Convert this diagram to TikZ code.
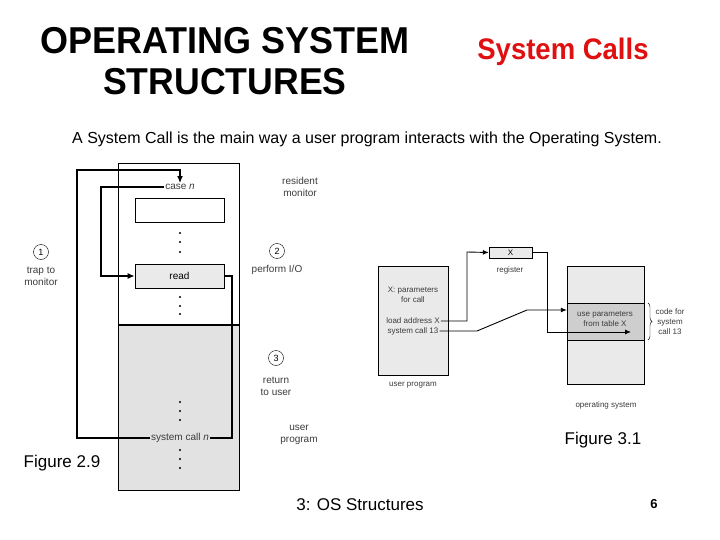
\documentclass[tikz,border=0pt]{standalone}
\usepackage{fontspec}
\setmainfont{Liberation Sans}
\usepackage{xcolor}
\usetikzlibrary{positioning,arrows.meta,decorations.pathreplacing}
\definecolor{titleRed}{RGB}{224,16,16}
\definecolor{paneGray}{RGB}{226,226,226}
\definecolor{lightPane}{RGB}{234,234,234}
\definecolor{bandGray}{RGB}{206,206,206}
\definecolor{labelGray}{RGB}{60,60,60}
\tikzset{
  lbl/.style={font=\fontsize{10}{12}\selectfont, text=labelGray, align=center, inner sep=1pt},
  small/.style={font=\fontsize{8}{10}\selectfont, text=labelGray, align=center, inner sep=1pt},
  numcirc/.style={circle, draw, thin, inner sep=0pt, minimum size=15pt, font=\fontsize{9}{9}\selectfont},
  slot/.style={draw, thick, minimum width=89, minimum height=24, inner sep=0pt},
  conn/.style={line width=1.3pt},
  link/.style={line width=0.9pt},
  figlbl/.style={font=\fontsize{17}{20}\selectfont}
}
\begin{document}
\begin{tikzpicture}[x=1pt,y=-1pt]
\useasboundingbox[fill=white] (0,0) rectangle (720,540);
\node[font=\bfseries\fontsize{36}{41}\selectfont, align=center] (title) at (225,61) {\scalebox{1}[1.04]{OPERATING SYSTEM}\\\scalebox{0.99}[1.04]{STRUCTURES}};
\node[font=\bfseries\fontsize{27.5}{30}\selectfont, text=titleRed] (calls) at (563,52) {\scalebox{1}[1.08]{System Calls}};
\node[font=\fontsize{16}{18}\selectfont] (intro) at (367,139) {A System Call is the main way a user program interacts with the Operating System.};

\fill[paneGray] (118,325) rectangle (239,490);
\draw[thick] (118,163) rectangle (239,490);
\draw[line width=1.5pt] (118,325) -- (239,325);
\node[lbl] (casen) at (180,187) {case \textit{n}};
\node[slot] (blank) at (179.5,210) {};
\node[slot, fill=lightPane, font=\fontsize{10}{12}\selectfont] (read) at (179.5,276) {read};
\node[lbl, fill=paneGray] (syscall) at (180,438) {system call \textit{n}};
\foreach \y in {233,242,252,297,306,314,402,411,420,450,459,468}
  \fill (180,\y) circle (1.2);
\coordinate (trapTop) at (77,170);
\coordinate (ioLeft) at (101,276);
\coordinate (retRight) at (232,438);
\draw[conn, -{Latex[length=7pt,width=6pt]}] (syscall.west) -| (trapTop) -| (casen.north);
\draw[conn, -{Latex[length=7pt,width=6pt]}] (casen.west) -| (ioLeft) -- (read.west);
\draw[conn] (read.east) -| (retRight) -- (syscall.east);

\node[numcirc] (stepOne) at (41,252) {1};
\node[lbl] (trap) at (41,276) {trap to\\monitor};
\node[lbl] (resident) at (300,187) {resident\\monitor};
\node[numcirc] (stepTwo) at (277,251) {2};
\node[lbl] (perform) at (277,270) {perform I/O};
\node[numcirc] (stepThree) at (276,358) {3};
\node[lbl] (ret) at (276,386) {return\\to user};
\node[lbl] (userprog) at (299,435) {user\\program};
\node[figlbl] (figA) at (62,463) {Figure 2.9};

\node[draw, thin, fill=lightPane, minimum width=70, minimum height=109, inner sep=0pt] (upbox) at (413,320.5) {};
\node[small] (params) at (413,295) {X: parameters\\for call};
\node[small] (loadX) at (413,321) {load address X};
\node[small] (sysX) at (413,331) {system call 13};
\node[small] (upname) at (413,385) {user program};
\node[draw, thin, fill=lightPane, minimum width=43, minimum height=11, inner sep=0pt, font=\fontsize{8}{8}\selectfont] (reg) at (510.5,252.5) {X};
\node[small] (regname) at (510,270) {register};
\node[draw, thin, fill=lightPane, minimum width=77, minimum height=118, inner sep=0pt] (osbox) at (605.5,325) {};
\node[draw, thin, fill=bandGray, minimum width=77, minimum height=37, inner sep=0pt] (band) at (605.5,321.5) {};
\node[small] (useparams) at (605,319) {use parameters\\from table X};
\node[small] (osname) at (606,405) {operating system};
\node[small] (codefor) at (670,322) {code for\\system\\call 13};
\coordinate (regIn) at (467,252);
\coordinate (regOut) at (547,332);
\coordinate (tableX) at (631,332);
\coordinate (jumpLow) at (477,331);
\coordinate (jumpHigh) at (527,310);
\draw[link, -{Latex[length=6pt,width=5pt]}] (loadX.east) -| (regIn) -- (reg.west);
\draw[link, -{Latex[length=6pt,width=5pt]}] (reg.east) -| (regOut) -- (tableX);
\draw[link, -{Latex[length=6pt,width=5pt]}] (sysX.east) -- (jumpLow) -- (jumpHigh) -- (band.west |- jumpHigh);
\draw[thin, decorate, decoration={brace, amplitude=4pt}] (648,303) -- (648,340);
\node[figlbl] (figB) at (603,440) {Figure 3.1};

\node[font=\fontsize{17}{20}\selectfont] (footer) at (360,505) {3: OS Structures};
\node[font=\bfseries\fontsize{13}{15}\selectfont] (page) at (654,504) {6};
\end{tikzpicture}
\end{document}
